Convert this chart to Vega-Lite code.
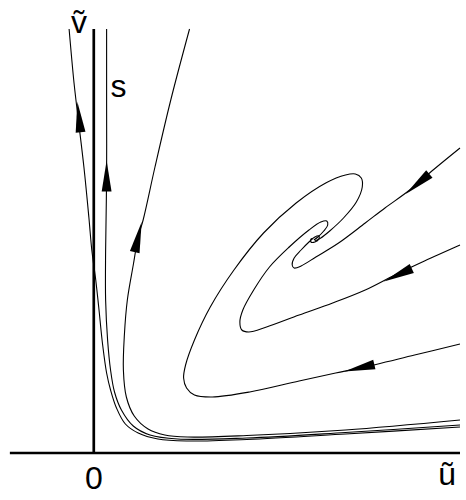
{
  "$schema": "https://vega.github.io/schema/vega-lite/v6.json",
  "width": 466,
  "height": 500,
  "padding": 0,
  "autosize": {"type": "fit", "contains": "padding"},
  "background": "white",
  "config": {"view": {"stroke": null}},
  "datasets": {
    "curves": [
      {"c": "A", "i": 1, "u": -0.25, "v": 4.24},
      {"c": "A", "i": 2, "u": -0.20, "v": 3.70},
      {"c": "A", "i": 3, "u": -0.16, "v": 3.36},
      {"c": "A", "i": 4, "u": -0.10, "v": 2.86},
      {"c": "A", "i": 5, "u": -0.05, "v": 2.36},
      {"c": "A", "i": 6, "u": -0.02, "v": 2.03},
      {"c": "A", "i": 7, "u": 0.02, "v": 1.73},
      {"c": "A", "i": 8, "u": 0.05, "v": 1.46},
      {"c": "A", "i": 9, "u": 0.09, "v": 1.08},
      {"c": "A", "i": 10, "u": 0.13, "v": 0.80},
      {"c": "A", "i": 11, "u": 0.17, "v": 0.63},
      {"c": "A", "i": 12, "u": 0.23, "v": 0.45},
      {"c": "A", "i": 13, "u": 0.32, "v": 0.29},
      {"c": "A", "i": 14, "u": 0.45, "v": 0.20},
      {"c": "A", "i": 15, "u": 0.65, "v": 0.14},
      {"c": "A", "i": 16, "u": 0.95, "v": 0.12},
      {"c": "A", "i": 17, "u": 1.55, "v": 0.135},
      {"c": "A", "i": 18, "u": 2.55, "v": 0.19},
      {"c": "A", "i": 19, "u": 3.71, "v": 0.26},

      {"c": "S", "i": 1, "u": 0.13, "v": 4.24},
      {"c": "S", "i": 2, "u": 0.13, "v": 3.53},
      {"c": "S", "i": 3, "u": 0.13, "v": 2.77},
      {"c": "S", "i": 4, "u": 0.12, "v": 2.03},
      {"c": "S", "i": 5, "u": 0.12, "v": 1.53},
      {"c": "S", "i": 6, "u": 0.14, "v": 1.13},
      {"c": "S", "i": 7, "u": 0.17, "v": 0.83},
      {"c": "S", "i": 8, "u": 0.21, "v": 0.61},
      {"c": "S", "i": 9, "u": 0.28, "v": 0.43},
      {"c": "S", "i": 10, "u": 0.40, "v": 0.27},
      {"c": "S", "i": 11, "u": 0.57, "v": 0.18},
      {"c": "S", "i": 12, "u": 0.85, "v": 0.14},
      {"c": "S", "i": 13, "u": 1.55, "v": 0.15},
      {"c": "S", "i": 14, "u": 2.55, "v": 0.205},
      {"c": "S", "i": 15, "u": 3.71, "v": 0.28},

      {"c": "C", "i": 1, "u": 0.97, "v": 4.24},
      {"c": "C", "i": 2, "u": 0.78, "v": 3.53},
      {"c": "C", "i": 3, "u": 0.62, "v": 2.86},
      {"c": "C", "i": 4, "u": 0.50, "v": 2.33},
      {"c": "C", "i": 5, "u": 0.45, "v": 2.16},
      {"c": "C", "i": 6, "u": 0.40, "v": 1.88},
      {"c": "C", "i": 7, "u": 0.34, "v": 1.53},
      {"c": "C", "i": 8, "u": 0.31, "v": 1.18},
      {"c": "C", "i": 9, "u": 0.30, "v": 0.83},
      {"c": "C", "i": 10, "u": 0.33, "v": 0.56},
      {"c": "C", "i": 11, "u": 0.41, "v": 0.37},
      {"c": "C", "i": 12, "u": 0.55, "v": 0.24},
      {"c": "C", "i": 13, "u": 0.72, "v": 0.18},
      {"c": "C", "i": 14, "u": 0.95, "v": 0.16},
      {"c": "C", "i": 15, "u": 1.55, "v": 0.175},
      {"c": "C", "i": 16, "u": 2.55, "v": 0.23},
      {"c": "C", "i": 17, "u": 3.71, "v": 0.33},

      {"c": "P1", "i": 1, "u": 3.71, "v": 3.05},
      {"c": "P1", "i": 2, "u": 3.45, "v": 2.84},
      {"c": "P1", "i": 3, "u": 3.20, "v": 2.63},
      {"c": "P1", "i": 4, "u": 2.95, "v": 2.45},
      {"c": "P1", "i": 5, "u": 2.75, "v": 2.30},
      {"c": "P1", "i": 6, "u": 2.48, "v": 2.10},
      {"c": "P1", "i": 7, "u": 2.25, "v": 1.96},
      {"c": "P1", "i": 8, "u": 2.10, "v": 1.87},
      {"c": "P1", "i": 9, "u": 2.03, "v": 1.85},
      {"c": "P1", "i": 10, "u": 2.01, "v": 1.88},
      {"c": "P1", "i": 11, "u": 2.03, "v": 1.95},
      {"c": "P1", "i": 12, "u": 2.10, "v": 2.03},
      {"c": "P1", "i": 13, "u": 2.18, "v": 2.11},
      {"c": "P1", "i": 14, "u": 2.24, "v": 2.16},
      {"c": "P1", "i": 15, "u": 2.28, "v": 2.17},
      {"c": "P1", "i": 16, "u": 2.28, "v": 2.14},
      {"c": "P1", "i": 17, "u": 2.24, "v": 2.11},
      {"c": "P1", "i": 18, "u": 2.20, "v": 2.11},
      {"c": "P1", "i": 19, "u": 2.20, "v": 2.14},
      {"c": "P1", "i": 20, "u": 2.23, "v": 2.15},

      {"c": "P2", "i": 1, "u": 3.71, "v": 2.08},
      {"c": "P2", "i": 2, "u": 3.35, "v": 1.92},
      {"c": "P2", "i": 3, "u": 3.05, "v": 1.78},
      {"c": "P2", "i": 4, "u": 2.75, "v": 1.63},
      {"c": "P2", "i": 5, "u": 2.42, "v": 1.50},
      {"c": "P2", "i": 6, "u": 2.08, "v": 1.38},
      {"c": "P2", "i": 7, "u": 1.75, "v": 1.26},
      {"c": "P2", "i": 8, "u": 1.57, "v": 1.21},
      {"c": "P2", "i": 9, "u": 1.50, "v": 1.23},
      {"c": "P2", "i": 10, "u": 1.48, "v": 1.31},
      {"c": "P2", "i": 11, "u": 1.51, "v": 1.43},
      {"c": "P2", "i": 12, "u": 1.62, "v": 1.63},
      {"c": "P2", "i": 13, "u": 1.78, "v": 1.86},
      {"c": "P2", "i": 14, "u": 1.98, "v": 2.06},
      {"c": "P2", "i": 15, "u": 2.18, "v": 2.23},
      {"c": "P2", "i": 16, "u": 2.30, "v": 2.31},
      {"c": "P2", "i": 17, "u": 2.36, "v": 2.32},
      {"c": "P2", "i": 18, "u": 2.37, "v": 2.28},
      {"c": "P2", "i": 19, "u": 2.33, "v": 2.22},
      {"c": "P2", "i": 20, "u": 2.27, "v": 2.16},
      {"c": "P2", "i": 21, "u": 2.23, "v": 2.13},

      {"c": "P3", "i": 1, "u": 3.71, "v": 1.09},
      {"c": "P3", "i": 2, "u": 3.25, "v": 0.98},
      {"c": "P3", "i": 3, "u": 2.70, "v": 0.85},
      {"c": "P3", "i": 4, "u": 2.45, "v": 0.80},
      {"c": "P3", "i": 5, "u": 2.08, "v": 0.72},
      {"c": "P3", "i": 6, "u": 1.58, "v": 0.61},
      {"c": "P3", "i": 7, "u": 1.20, "v": 0.56},
      {"c": "P3", "i": 8, "u": 1.02, "v": 0.58},
      {"c": "P3", "i": 9, "u": 0.94, "v": 0.65},
      {"c": "P3", "i": 10, "u": 0.91, "v": 0.75},
      {"c": "P3", "i": 11, "u": 0.93, "v": 0.88},
      {"c": "P3", "i": 12, "u": 1.02, "v": 1.13},
      {"c": "P3", "i": 13, "u": 1.18, "v": 1.46},
      {"c": "P3", "i": 14, "u": 1.42, "v": 1.83},
      {"c": "P3", "i": 15, "u": 1.72, "v": 2.20},
      {"c": "P3", "i": 16, "u": 2.05, "v": 2.50},
      {"c": "P3", "i": 17, "u": 2.35, "v": 2.70},
      {"c": "P3", "i": 18, "u": 2.55, "v": 2.78},
      {"c": "P3", "i": 19, "u": 2.65, "v": 2.79},
      {"c": "P3", "i": 20, "u": 2.71, "v": 2.75},
      {"c": "P3", "i": 21, "u": 2.72, "v": 2.66},
      {"c": "P3", "i": 22, "u": 2.66, "v": 2.51},
      {"c": "P3", "i": 23, "u": 2.53, "v": 2.35},
      {"c": "P3", "i": 24, "u": 2.39, "v": 2.22},
      {"c": "P3", "i": 25, "u": 2.30, "v": 2.15},
      {"c": "P3", "i": 26, "u": 2.24, "v": 2.12}
    ],
    "axes": [
      {"g": "h", "i": 1, "u": -0.85, "v": 0},
      {"g": "h", "i": 2, "u": 3.71, "v": 0},
      {"g": "vv", "i": 1, "u": 0, "v": 0},
      {"g": "vv", "i": 2, "u": 0, "v": 4.24}
    ],
    "arrows": [
      {"c": "A", "u": -0.15, "v": 3.36, "dir": 354},
      {"c": "S", "u": 0.13, "v": 2.77, "dir": 0},
      {"c": "C", "u": 0.45, "v": 2.16, "dir": 13},
      {"c": "P1", "u": 3.28, "v": 2.69, "dir": 230},
      {"c": "P2", "u": 3.08, "v": 1.78, "dir": 245},
      {"c": "P3", "u": 2.69, "v": 0.85, "dir": 257}
    ],
    "labels": [
      {"t": "ṽ", "u": -0.15, "v": 4.20},
      {"t": "s", "u": 0.25, "v": 3.56},
      {"t": "0", "u": 0, "v": -0.36},
      {"t": "ũ", "u": 3.58, "v": -0.32}
    ]
  },
  "encoding": {
    "x": {"field": "u", "type": "quantitative", "axis": null, "scale": {"domain": [-0.95, 3.71], "nice": false, "zero": false}},
    "y": {"field": "v", "type": "quantitative", "axis": null, "scale": {"domain": [-0.47, 4.53], "nice": false, "zero": false}}
  },
  "layer": [
    {
      "data": {"name": "axes"},
      "mark": {"type": "line", "color": "black", "strokeWidth": 2.7, "strokeCap": "butt"},
      "encoding": {"detail": {"field": "g"}, "order": {"field": "i", "type": "quantitative"}}
    },
    {
      "data": {"name": "curves"},
      "mark": {"type": "line", "color": "black", "strokeWidth": 1.1, "interpolate": "catmull-rom"},
      "encoding": {"detail": {"field": "c"}, "order": {"field": "i", "type": "quantitative"}}
    },
    {
      "data": {"name": "arrows"},
      "mark": {"type": "point", "shape": "M0,-1L0.32,1L-0.32,1Z", "filled": true, "color": "black", "opacity": 1, "size": 950, "strokeWidth": 0},
      "encoding": {"angle": {"field": "dir", "type": "quantitative", "scale": {"domain": [0, 360], "range": [0, 360]}}}
    },
    {
      "data": {"name": "labels"},
      "mark": {"type": "text", "font": "Liberation Sans", "fontSize": 32, "align": "center", "baseline": "alphabetic", "color": "black"},
      "encoding": {"text": {"field": "t"}}
    }
  ]
}
